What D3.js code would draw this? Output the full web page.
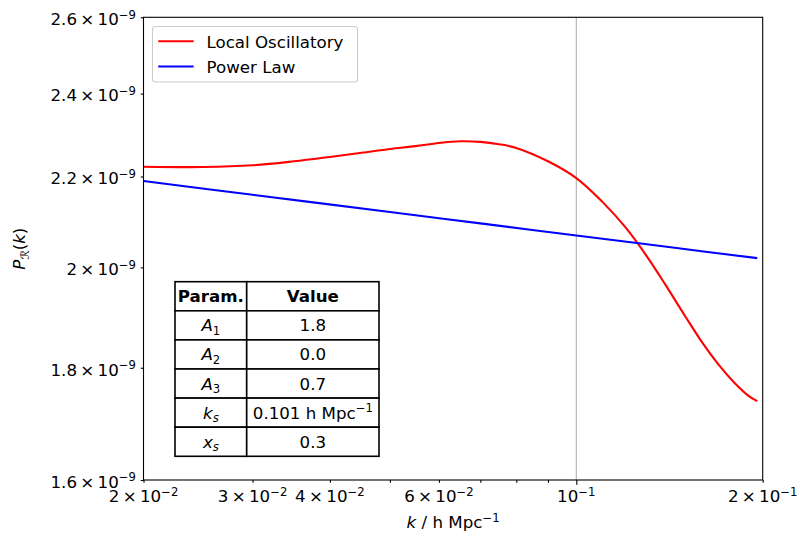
<!DOCTYPE html>
<html>
<head>
<meta charset="utf-8">
<script src="https://cdn.jsdelivr.net/npm/d3@7"></script>
<style>
  body { margin: 0; background: #fff; }
  svg { display: block; font-family: "DejaVu Sans", sans-serif; }
</style>
</head>
<body>
<svg width="798" height="534"></svg>
<script>
const kSamples = [0.02, 0.025, 0.03, 0.035, 0.04, 0.045, 0.05, 0.055, 0.06, 0.065, 0.07, 0.075,
                  0.08, 0.09, 0.1, 0.11, 0.12, 0.13, 0.14, 0.15, 0.16, 0.17, 0.18, 0.19, 0.196];
// P_R(k) in units of 1e-9
const localOscillatory = [2.2228, 2.2220, 2.2260, 2.2354, 2.2457, 2.2554, 2.2644, 2.2713, 2.2789, 2.2829,
                          2.2815, 2.2759, 2.2670, 2.2354, 2.1963, 2.1433, 2.0860, 2.0232, 1.9593, 1.8995,
                          1.8470, 1.8049, 1.7720, 1.7473, 1.7381];
const powerLawK = [0.02, 0.03, 0.05, 0.07, 0.1, 0.14, 0.196];
const powerLaw = [2.1895, 2.1583, 2.1195, 2.0944, 2.0680, 2.0435, 2.0194];

const seriesNames = ['Local Oscillatory', 'Power Law'];
const seriesColors = ['#ff0000', '#0000ff'];

const xMinorTicks = [0.02, 0.03, 0.04, 0.05, 0.06, 0.07, 0.08, 0.09, 0.2];
const xMajorTicks = [0.1];
const xGrid = [0.1];
// [value, mantissa, exponent]
const xTickLabels = [[0.02, '2', '−2'], [0.03, '3', '−2'], [0.04, '4', '−2'],
                     [0.06, '6', '−2'], [0.1, '', '−1'], [0.2, '2', '−1']];
const yTicks = [1.6, 1.8, 2.0, 2.2, 2.4, 2.6];
const yTickLabels = ['1.6', '1.8', '2', '2.2', '2.4', '2.6'];

const tableHeader = ['Param.', 'Value'];
const tableParams = [['A', '1'], ['A', '2'], ['A', '3'], ['k', 's'], ['x', 's']];
const tableValues = [['1.8'], ['0.0'], ['0.7'], ['0.101 h Mpc', '−1'], ['0.3']];

const svg = d3.select('svg');
const fs = 16.67;
const plot = {left: 143.5, right: 762.7, top: 17.3, bottom: 480};

const x = d3.scaleLog().domain([0.02, 0.2]).range([plot.left, plot.right]);
const y = d3.scaleLog().domain([1.6, 2.6]).range([plot.bottom, plot.top]);

// small helper for mathtext-like labels
const addParts = (txt, parts) => {
    parts.forEach(p => {
        const t = txt.append('tspan').text(p.t);
        if (p.it) t.attr('font-style', 'italic');
        if (p.sup) t.attr('font-size', fs * 0.7).attr('dy', -6.5);
        if (p.sub) t.attr('font-size', fs * 0.7).attr('dy', 3.5);
        if (p.back) t.attr('dy', p.back);
    });
};

// grid
svg.append('g').selectAll('line').data(xGrid).enter().append('line')
    .attr('x1', d => x(d)).attr('x2', d => x(d))
    .attr('y1', plot.top).attr('y2', plot.bottom)
    .attr('stroke', '#b0b0b0').attr('stroke-width', 1.1);

// curves
const line = d3.line().x(d => x(d[0])).y(d => y(d[1])).curve(d3.curveCatmullRom.alpha(0.5));
svg.append('path')
    .datum(kSamples.map((k, i) => [k, localOscillatory[i]]))
    .attr('d', line).attr('fill', 'none')
    .attr('stroke', seriesColors[0]).attr('stroke-width', 2.08);
svg.append('path')
    .datum(powerLawK.map((k, i) => [k, powerLaw[i]]))
    .attr('d', line).attr('fill', 'none')
    .attr('stroke', seriesColors[1]).attr('stroke-width', 2.08);

// axes ticks
const xAxisMinor = svg.append('g').attr('transform', `translate(0,${plot.bottom})`)
    .call(d3.axisBottom(x).tickValues(xMinorTicks).tickSize(2.78).tickFormat(''));
const xAxisMajor = svg.append('g').attr('transform', `translate(0,${plot.bottom})`)
    .call(d3.axisBottom(x).tickValues(xMajorTicks).tickSize(4.86).tickFormat(''));
const yAxis = svg.append('g').attr('transform', `translate(${plot.left},0)`)
    .call(d3.axisLeft(y).tickValues(yTicks).tickSize(2.78).tickFormat(''));
[xAxisMinor, xAxisMajor, yAxis].forEach(a => {
    a.select('.domain').remove();
    a.selectAll('line').attr('stroke', '#000').attr('stroke-width', 1.1);
});

// x tick labels
xTickLabels.forEach(([v, m, e]) => {
    const t = svg.append('text').attr('x', x(v)).attr('y', 502)
        .attr('text-anchor', 'middle').attr('font-size', fs);
    addParts(t, [{t: m ? m + '\u2009×\u200910' : '10'}, {t: e, sup: true}]);
});

// y tick labels
yTicks.forEach((v, i) => {
    const t = svg.append('text').attr('x', 136).attr('y', y(v) + 7.8)
        .attr('text-anchor', 'end').attr('font-size', fs);
    addParts(t, [{t: yTickLabels[i] + '\u2009×\u200910'}, {t: '−9', sup: true}]);
});

// spines
svg.append('rect')
    .attr('x', plot.left).attr('y', plot.top)
    .attr('width', plot.right - plot.left).attr('height', plot.bottom - plot.top)
    .attr('fill', 'none').attr('stroke', '#000').attr('stroke-width', 1.1);

// axis labels
const xl = svg.append('text').attr('x', (plot.left + plot.right) / 2).attr('y', 528)
    .attr('text-anchor', 'middle').attr('font-size', fs);
addParts(xl, [{t: 'k', it: true}, {t: ' / h Mpc'}, {t: '−1', sup: true}]);

const yl = svg.append('text')
    .attr('transform', `translate(25,${(plot.top + plot.bottom) / 2}) rotate(-90)`)
    .attr('text-anchor', 'middle').attr('font-size', fs);
addParts(yl, [{t: 'P', it: true}, {t: 'ℛ', it: true, sub: true}, {t: '(', back: -3.5}, {t: 'k', it: true}, {t: ')'}]);

// legend
const lg = svg.append('g');
lg.append('rect').attr('x', 152.5).attr('y', 26.5).attr('width', 205).attr('height', 55.5)
    .attr('rx', 3.3).attr('fill', '#fff').attr('fill-opacity', 0.8)
    .attr('stroke', '#cccccc').attr('stroke-width', 1.1);
seriesNames.forEach((name, i) => {
    const yy = 41.3 + i * 25.2;
    lg.append('line').attr('x1', 159.3).attr('x2', 192.6).attr('y1', yy).attr('y2', yy)
        .attr('stroke', seriesColors[i]).attr('stroke-width', 2.08).attr('stroke-linecap', 'square');
    lg.append('text').attr('x', 206.5).attr('y', yy + 6.5).attr('font-size', fs).text(name);
});

// parameter table
const tb = {left: 175, mid: 246.7, right: 379, top: 281.7, rowH: 29.1};
const tg = svg.append('g');
const rows = [tableHeader].concat(tableParams.map((p, i) => [p, tableValues[i]]));
rows.forEach((r, i) => {
    const ty = tb.top + i * tb.rowH;
    tg.append('rect').attr('x', tb.left).attr('y', ty).attr('width', tb.mid - tb.left).attr('height', tb.rowH)
        .attr('fill', '#fff').attr('stroke', '#000').attr('stroke-width', 1.6);
    tg.append('rect').attr('x', tb.mid).attr('y', ty).attr('width', tb.right - tb.mid).attr('height', tb.rowH)
        .attr('fill', '#fff').attr('stroke', '#000').attr('stroke-width', 1.6);
    const base = ty + tb.rowH / 2 + 6;
    const c1 = tg.append('text').attr('x', (tb.left + tb.mid) / 2).attr('y', base)
        .attr('text-anchor', 'middle').attr('font-size', fs);
    const c2 = tg.append('text').attr('x', (tb.mid + tb.right) / 2).attr('y', base)
        .attr('text-anchor', 'middle').attr('font-size', fs);
    if (i === 0) {
        c1.attr('font-weight', 'bold').text(r[0]);
        c2.attr('font-weight', 'bold').text(r[1]);
    } else {
        addParts(c1, [{t: r[0][0], it: true}, {t: r[0][1], sub: true, it: r[0][1] === 's'}]);
        const v = r[1];
        addParts(c2, v.length > 1 ? [{t: v[0]}, {t: v[1], sup: true}] : [{t: v[0]}]);
    }
});
</script>
</body>
</html>
